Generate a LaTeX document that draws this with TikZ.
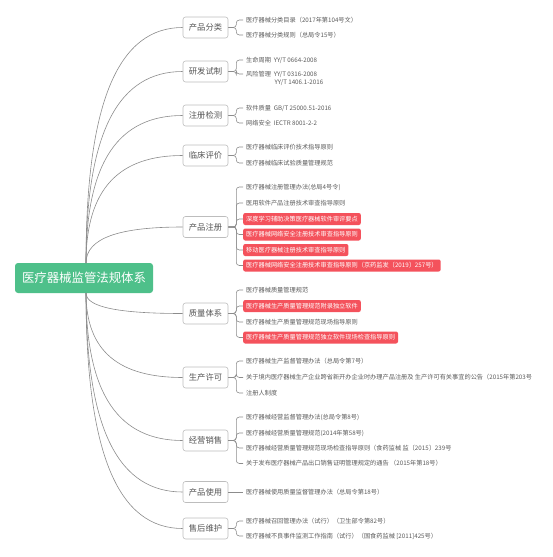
\documentclass[tikz,border=0pt]{standalone}
\usepackage{fontspec}
\setmainfont{Noto Sans CJK SC}
\usetikzlibrary{calc}
\definecolor{rootgreen}{HTML}{4EC08A}
\definecolor{hotred}{HTML}{F4525C}
\definecolor{boxgray}{HTML}{BDBDBD}
\definecolor{txtgray}{HTML}{555555}
\definecolor{leafgray}{HTML}{5A5A5A}
\definecolor{linegray}{HTML}{8C8C8C}
\tikzset{
  rootbox/.style={fill=rootgreen, rounded corners=3pt, text=white, font=\fontsize{12.4}{14}\selectfont, minimum width=138pt, minimum height=30pt, inner sep=0pt},
  brbox/.style={draw=boxgray, fill=white, rounded corners=2.5pt, text=txtgray, font=\fontsize{8.3}{10}\selectfont, minimum width=45pt, minimum height=21pt, inner sep=0pt, line width=0.6pt},
  leaf/.style={anchor=west, font=\fontsize{6.2}{7.5}\selectfont, text=leafgray, inner xsep=3pt, inner ysep=1.5pt},
  hot/.style={leaf, fill=hotred, text=white, rounded corners=2pt, minimum height=12pt},
  link/.style={draw=linegray, line width=0.6pt},
  brk/.style={link, rounded corners=3pt}
}
\begin{document}
\begin{tikzpicture}[x=1pt,y=-1pt]
\useasboundingbox (0,0) rectangle (553,557);
% root
\node[rootbox] (root) at (84,278) {医疗器械监管法规体系};
\coordinate (rtop) at (86,263);
\coordinate (rbot) at (86,293);
% branches
\node[brbox] (b1) at (205.5,27.5) {产品分类};
\node[brbox] (b2) at (205.5,71.5) {研发试制};
\node[brbox] (b3) at (205.5,115.5) {注册检测};
\node[brbox] (b4) at (205.5,155.5) {临床评价};
\node[brbox] (b5) at (205.5,227) {产品注册};
\node[brbox] (b6) at (205.5,313.5) {质量体系};
\node[brbox] (b7) at (205.5,377.5) {生产许可};
\node[brbox] (b8) at (205.5,440.5) {经营销售};
\node[brbox] (b9) at (205.5,492) {产品使用};
\node[brbox] (b10) at (205.5,528.5) {售后维护};
% root connectors
\foreach \b in {b1,b2,b3,b4,b5}{
  \draw[link] (rtop) .. controls ($(rtop)!0.7!(rtop |- \b.west)$) and ($(\b.west)!0.65!(\b.west -| rtop)$) .. (\b.west);
}
\foreach \b in {b6,b7,b8,b9,b10}{
  \draw[link] (rbot) .. controls ($(rbot)!0.7!(rbot |- \b.west)$) and ($(\b.west)!0.65!(\b.west -| rbot)$) .. (\b.west);
}
% leaves
\node[leaf] (l1a) at (243,20) {医疗器械分类目录（2017年第104号文）};
\node[leaf] (l1b) at (243,35) {医疗器械分类规则（总局令15号）};
\node[leaf] (l2a) at (243,60) {生命周期\ \ YY/T 0664-2008};
\node[leaf] (l2b) at (243,74) {风险管理\ \ YY/T 0316-2008};
\node[leaf] (l2c) at (271.5,83) {YY/T 1406.1-2016};
\node[leaf] (l3a) at (243,108) {软件质量\ \ GB/T 25000.51-2016};
\node[leaf] (l3b) at (243,123) {网络安全\ \ IECTR 8001-2-2};
\node[leaf] (l4a) at (243,147) {医疗器械临床评价技术指导原则};
\node[leaf] (l4b) at (243,163) {医疗器械临床试验质量管理规范};
\node[leaf] (l5a) at (243,187) {医疗器械注册管理办法(总局4号令)};
\node[leaf] (l5b) at (243,203) {医用软件产品注册技术审查指导原则};
\node[hot] (l5c) at (243,219) {深度学习辅助决策医疗器械软件审评要点};
\node[hot] (l5d) at (243,234.5) {医疗器械网络安全注册技术审查指导原则};
\node[hot] (l5e) at (243,250) {移动医疗器械注册技术审查指导原则};
\node[hot] (l5f) at (243,265.5) {医疗器械网络安全注册技术审查指导原则（京药监发〔2019〕257号）};
\node[leaf] (l6a) at (243,290) {医疗器械质量管理规范};
\node[hot] (l6b) at (243,306) {医疗器械生产质量管理规范附录独立软件};
\node[leaf] (l6c) at (243,322) {医疗器械生产质量管理规范现场指导原则};
\node[hot] (l6d) at (243,337.5) {医疗器械生产质量管理规范独立软件现场检查指导原则};
\node[leaf] (l7a) at (243,361) {医疗器械生产监督管理办法（总局令第7号）};
\node[leaf] (l7b) at (243,377.5) {关于境内医疗器械生产企业跨省新开办企业时办理产品注册及 生产许可有关事宜的公告（2015年第203号};
\node[leaf] (l7c) at (243,393) {注册人制度};
\node[leaf] (l8a) at (243,417) {医疗器械经营监督管理办法(总局令第8号)};
\node[leaf] (l8b) at (243,433) {医疗器械经营质量管理规范(2014年第58号)};
\node[leaf] (l8c) at (243,448) {医疗器械经营质量管理规范现场检查指导原则（食药监械 监〔2015〕239号};
\node[leaf] (l8d) at (243,463.5) {关于发布医疗器械产品出口销售证明管理规定的通告 （2015年第18号）};
\node[leaf] (l9a) at (243,492) {医疗器械使用质量监督管理办法（总局令第18号）};
\node[leaf] (l10a) at (243,521) {医疗器械召回管理办法（试行）（卫生部令第82号）};
\node[leaf] (l10b) at (243,536) {医疗器械不良事件监测工作指南（试行）（国食药监械 [2011]425号）};
% brackets
\foreach \b/\ls in {b1/{l1a,l1b}, b2/{l2a,l2b}, b3/{l3a,l3b}, b4/{l4a,l4b},
  b5/{l5a,l5b,l5c,l5d,l5e,l5f}, b6/{l6a,l6b,l6c,l6d}, b7/{l7a,l7b,l7c},
  b8/{l8a,l8b,l8c,l8d}, b10/{l10a,l10b}}{
  \foreach \l in \ls{
    \draw[brk] (\b.east) -- ++(8,0) |- (\l.west);
  }
}
\draw[link] (b9.east) -- (l9a.west);
\end{tikzpicture}
\end{document}
